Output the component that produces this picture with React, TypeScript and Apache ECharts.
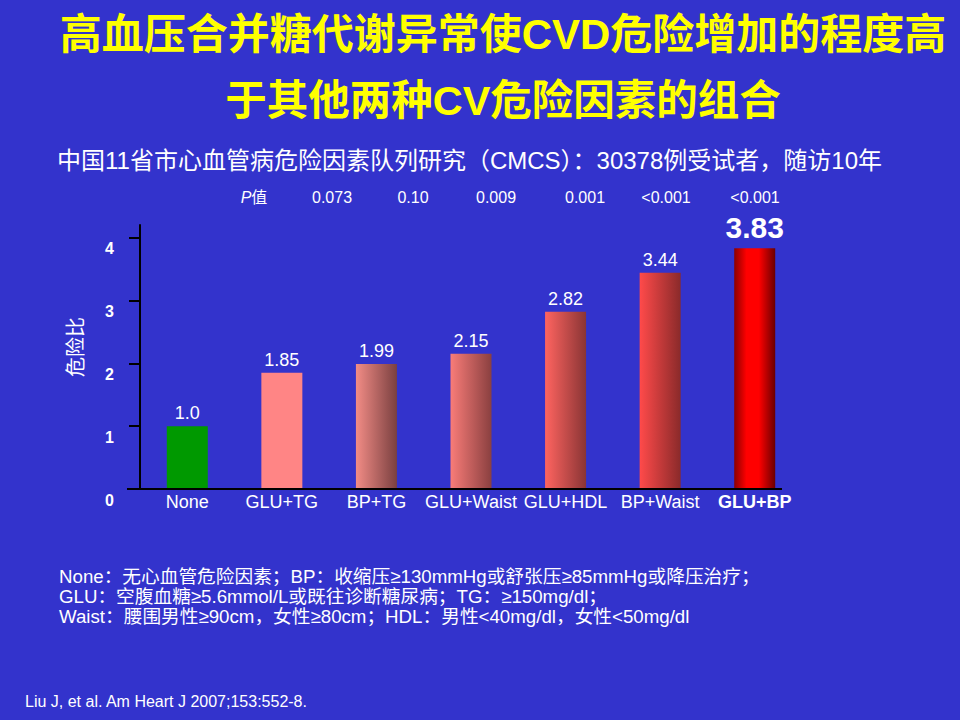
import React, { useEffect, useRef } from "react";
import * as echarts from "echarts";

// ---- data ----
const categories = ["None", "GLU+TG", "BP+TG", "GLU+Waist", "GLU+HDL", "BP+Waist", "GLU+BP"];
const hazardRatios = [1.0, 1.85, 1.99, 2.15, 2.82, 3.44, 3.83];
const pLabel = "P值";
const pValues = ["0.073", "0.10", "0.009", "0.001", "<0.001", "<0.001"];
const yTicks = [0, 1, 2, 3, 4];
const yName = "危险比";
const titleLines = ["高血压合并糖代谢异常使CVD危险增加的程度高", "于其他两种CV危险因素的组合"];
const subtitle = "中国11省市心血管病危险因素队列研究（CMCS）：30378例受试者，随访10年";
const footnotes = [
  "None：无心血管危险因素；BP：收缩压≥130mmHg或舒张压≥85mmHg或降压治疗；",
  "GLU：空腹血糖≥5.6mmol/L或既往诊断糖尿病；TG：≥150mg/dl；",
  "Waist：腰围男性≥90cm，女性≥80cm；HDL：男性<40mg/dl，女性<50mg/dl",
];
const citation = "Liu J, et al. Am Heart J 2007;153:552-8.";

// ---- layout / style (not data) ----
const FONT = "'Liberation Sans', Arial, 'Noto Sans CJK SC', sans-serif";
const BG = "#3333CC";
const pLabelX = 254;
const pValueX = [332, 413, 496, 585, 666, 755];
const GRID = { left: 140, top: 225, width: 662, height: 264 };
const AXIS_Y = GRID.top + GRID.height;

const hGrad = (a: string, b: string) =>
  new echarts.graphic.LinearGradient(0, 0, 1, 0, [
    { offset: 0, color: a },
    { offset: 1, color: b },
  ]);

const barFills: any[] = [
  "#009900",
  "#FF8585",
  hGrad("#F28C86", "#7A4040"),
  hGrad("#F97C78", "#8A4040"),
  hGrad("#FF6460", "#8A3535"),
  hGrad("#FF4A4A", "#8A2A2A"),
  new echarts.graphic.LinearGradient(0, 0, 1, 0, [
    { offset: 0, color: "#8A0000" },
    { offset: 0.3, color: "#FF0000" },
    { offset: 0.6, color: "#FF0000" },
    { offset: 1, color: "#6A0000" },
  ]),
];

const fmt = (v: number) => (Number.isInteger(v) ? v.toFixed(1) : String(v));

export default function App() {
  const ref = useRef<HTMLDivElement>(null);
  useEffect(() => {
    if (!ref.current) return;
    const chart = echarts.init(ref.current, undefined, { renderer: "svg" });
    const last = categories.length - 1;

    const txt = (x: number, y: number, text: string, font: string, fill: string, align: string, extra: any = {}) => ({
      type: "text",
      x,
      y,
      style: {
        text,
        fill,
        font,
        align,
        verticalAlign: "middle",
        textAlign: align,
        textVerticalAlign: "middle",
        ...extra,
      },
    });

    const graphics: any[] = [];
    titleLines.forEach((t, i) => {
      graphics.push(txt(503, i === 0 ? 34 : 100, t, `bold ${i === 0 ? 42 : 41.5}px ${FONT}`, "#FFFF00", "center"));
    });
    graphics.push(txt(57, 160, subtitle, `24px ${FONT}`, "#FFFFFF", "left"));
    graphics.push(
      txt(pLabelX, 197, "{i|P}" + pLabel.slice(1), `16px ${FONT}`, "#FFFFFF", "center", {
        rich: { i: { fontStyle: "italic", fontSize: 16, fill: "#FFFFFF", fontFamily: FONT } },
      })
    );
    pValues.forEach((p, i) => {
      graphics.push(txt(pValueX[i], 197, p, `16px ${FONT}`, "#FFFFFF", "center"));
    });
    footnotes.forEach((f, i) => {
      graphics.push(txt(59, 576 + i * 20, f, `18.7px ${FONT}`, "#FFFFFF", "left"));
    });
    graphics.push(txt(25, 701, citation, `16px ${FONT}`, "#FFFFFF", "left"));
    graphics.push({
      type: "line",
      shape: { x1: 127, y1: AXIS_Y, x2: 782, y2: AXIS_Y },
      style: { stroke: "#000000", lineWidth: 2 },
      z: 10,
    });

    chart.setOption({
      animation: false,
      backgroundColor: BG,
      grid: { ...GRID, containLabel: false },
      xAxis: {
        type: "category",
        data: categories.map((c, i) =>
          i === last ? { value: c, textStyle: { fontWeight: "bold" } } : c
        ),
        axisLine: { show: false },
        axisTick: { show: false },
        axisLabel: {
          interval: 0,
          color: "#FFFFFF",
          fontSize: 18,
          fontFamily: FONT,
          margin: 4,
        },
        splitLine: { show: false },
      },
      yAxis: {
        type: "value",
        min: 0,
        max: 4.2,
        interval: 1,
        name: yName,
        nameLocation: "middle",
        nameRotate: 90,
        nameGap: 54,
        nameTextStyle: { color: "#FFFFFF", fontSize: 20, fontFamily: FONT, padding: [0, 0, 0, 20] },
        axisLine: { show: true, lineStyle: { color: "#000000", width: 2 } },
        axisTick: {
          show: true,
          length: 11,
          customValues: yTicks,
          lineStyle: { color: "#000000", width: 2 },
        },
        axisLabel: {
          customValues: yTicks,
          color: "#FFFFFF",
          fontSize: 16,
          fontWeight: "bold",
          fontFamily: FONT,
          margin: 26,
          verticalAlign: "top",
          padding: [3, 0, 0, 0],
        },
        splitLine: { show: false },
      },
      series: [
        {
          type: "bar",
          barWidth: 41,
          data: hazardRatios.map((v, i) => ({
            value: v,
            itemStyle: { color: barFills[i] },
            label:
              i === last
                ? { fontSize: 30, fontWeight: "bold", distance: 6 }
                : undefined,
          })),
          label: {
            show: true,
            position: "top",
            distance: 4,
            color: "#FFFFFF",
            fontSize: 18,
            fontFamily: FONT,
            formatter: (p: any) => fmt(p.value),
          },
        },
      ],
      graphic: graphics,
    });
    return () => chart.dispose();
  }, []);

  return (
    <div
      ref={ref}
      style={{ position: "fixed", left: 0, top: 0, width: 960, height: 720 }}
    />
  );
}
